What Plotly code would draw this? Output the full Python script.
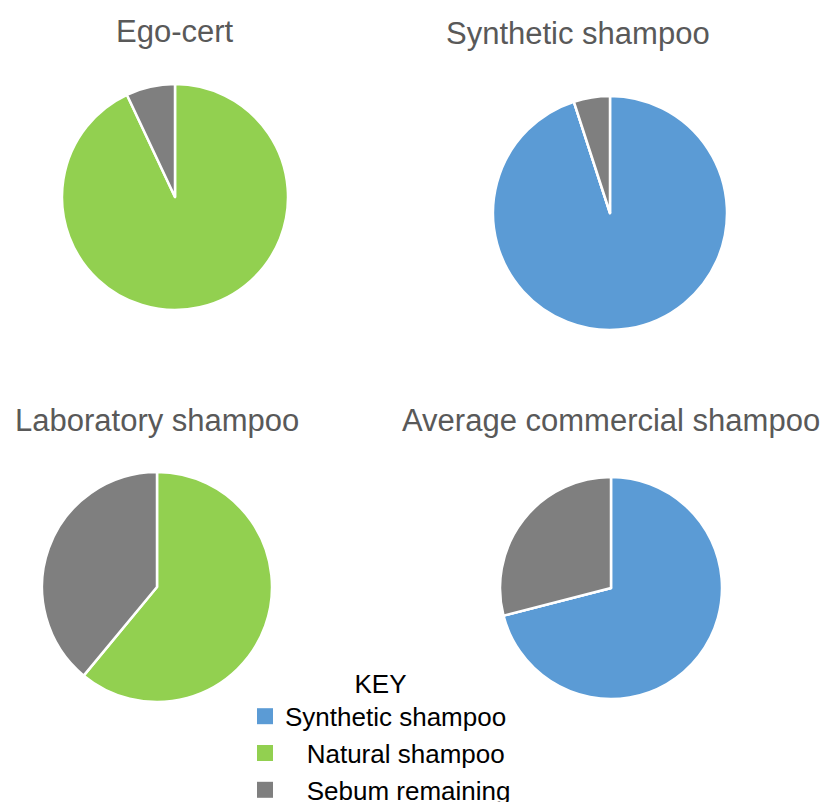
import plotly.graph_objects as go

W, H = 829, 802
OFF = 8  # page body margin

labels = ["Synthetic shampoo", "Natural shampoo", "Sebum remaining"]
legend_names = ["Synthetic shampoo", "\u00a0\u00a0\u00a0Natural shampoo", "\u00a0\u00a0\u00a0Sebum remaining"]
colors = ["#5B9BD5", "#92D050", "#7F7F7F"]

titles = ["Ego-cert", "Synthetic shampoo", "Laboratory shampoo", "Average commercial shampoo"]
ego_cert = [0, 93, 7]
synthetic = [95, 0, 5]
laboratory = [0, 61, 39]
commercial = [71, 0, 29]

# pie centre (px), radius (px), title centre (px)
pies = [
    (ego_cert, 175, 197, 113, 175, 31),
    (synthetic, 610, 213, 117, 578, 33),
    (laboratory, 157, 587, 115, 157, 420),
    (commercial, 611, 588, 111, 611, 420),
]


def px_x(v):
    return (v - OFF) / W


def px_y(v):
    return 1 - (v - OFF) / H


fig = go.Figure()
for i, (vals, cx, cy, r, tx, ty) in enumerate(pies):
    fig.add_trace(go.Pie(
        labels=labels,
        values=vals,
        sort=False,
        direction="clockwise",
        rotation=0,
        textinfo="none",
        hoverinfo="label+percent",
        marker=dict(colors=colors, line=dict(color="white", width=2.5)),
        domain=dict(x=[px_x(cx - r), px_x(cx + r)], y=[px_y(cy + r), px_y(cy - r)]),
        showlegend=False,
    ))
    fig.add_annotation(
        text=titles[i], x=px_x(tx), y=px_y(ty), xref="paper", yref="paper",
        showarrow=False, xanchor="center", yanchor="middle",
        font=dict(size=31, color="#595959"),
    )

# legend entries for the key
for name, c in zip(legend_names, colors):
    fig.add_trace(go.Scatter(
        x=[None], y=[None], mode="markers", name=name,
        marker=dict(symbol="square", size=23, color=c),
        hoverinfo="skip",
    ))

fig.update_xaxes(visible=False)
fig.update_yaxes(visible=False)

fig.update_layout(
    width=W, height=H,
    margin=dict(l=0, r=0, t=0, b=0, autoexpand=False),
    paper_bgcolor="white",
    plot_bgcolor="white",
    font=dict(family="Liberation Sans, Arial, sans-serif"),
    legend=dict(
        title=dict(text="KEY", side="top center", font=dict(size=26, color="black")),
        font=dict(size=26, color="black"),
        x=px_x(245), xanchor="left",
        y=px_y(659), yanchor="top",
        bgcolor="rgba(0,0,0,0)",
        traceorder="normal",
        tracegroupgap=0,
        itemsizing="trace",
    ),
)

fig.write_html("out.html")
